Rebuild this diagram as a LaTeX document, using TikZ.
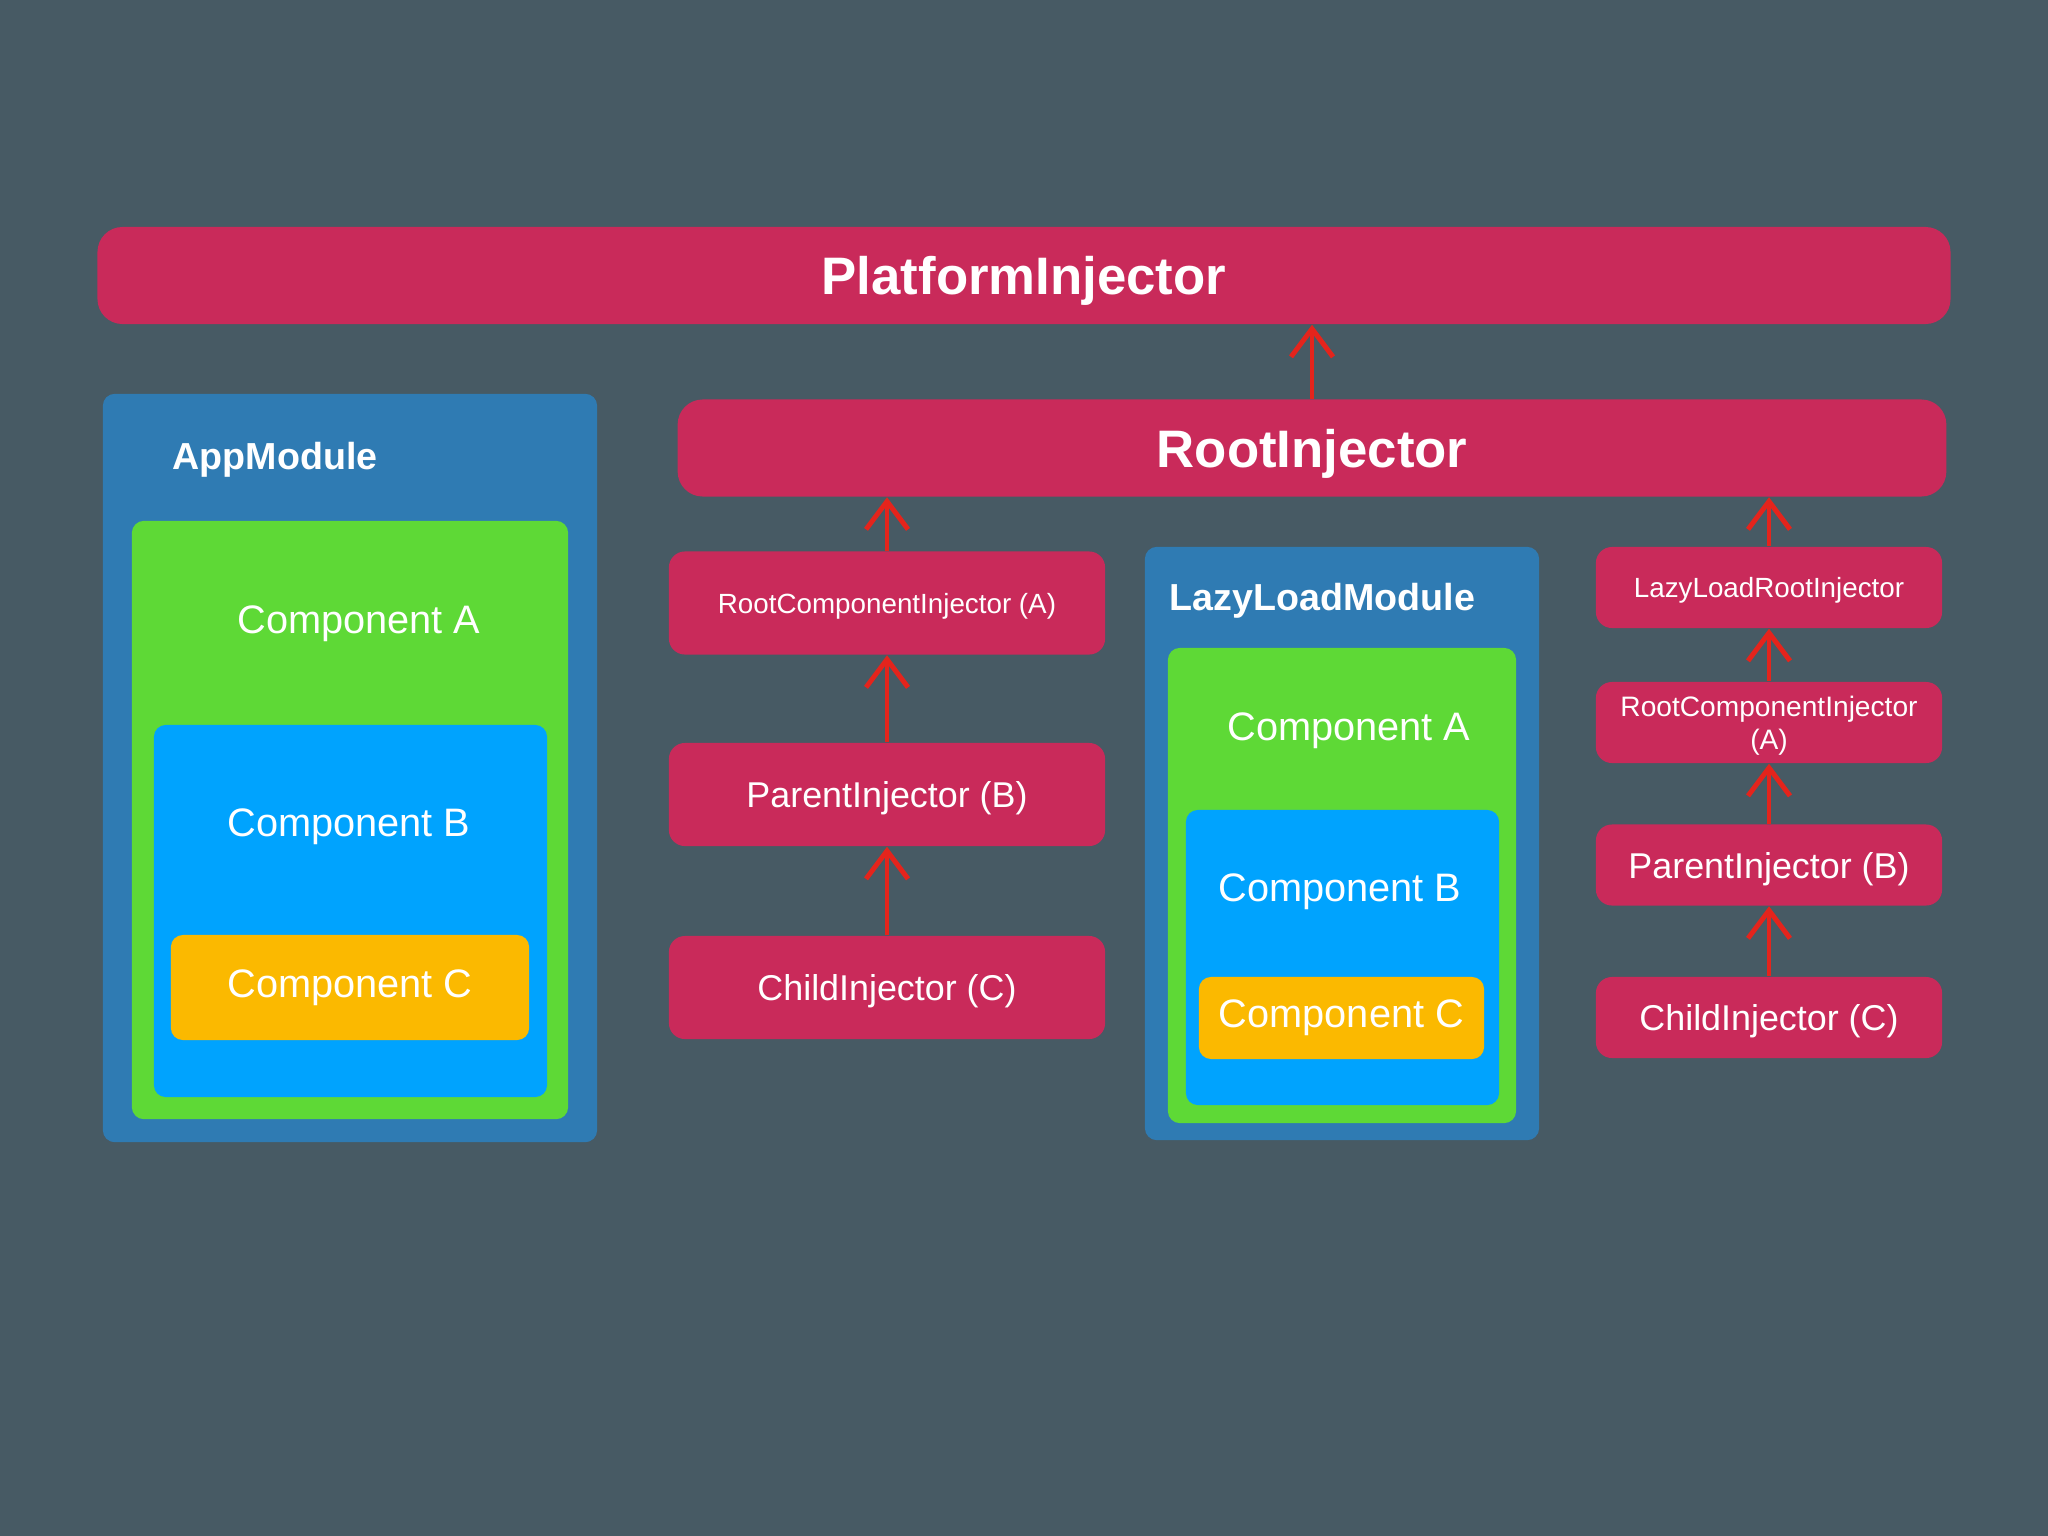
\documentclass[tikz,border=0pt]{standalone}
\usepackage{fontspec}
\setmainfont{Liberation Sans}
\usetikzlibrary{arrows.meta}
\definecolor{slate}{HTML}{475A64}
\definecolor{crimson}{HTML}{C92A5A}
\definecolor{modblue}{HTML}{2F7BB3}
\definecolor{compgreen}{HTML}{5ED936}
\definecolor{compblue}{HTML}{00A3FE}
\definecolor{compamber}{HTML}{FBB900}
\definecolor{arrowred}{HTML}{E4241C}

\begin{document}
\begin{tikzpicture}[x=0.01cm,y=-0.01cm,
	every node/.style={text=white, inner sep=0pt},
	injector/.style={fill=crimson, rounded corners=0.16cm, minimum width=4.36cm, minimum height=1.03cm, text depth=0pt, font=\fontsize{10.2}{12}\selectfont},
	smallinj/.style={injector, minimum width=3.46cm, minimum height=0.81cm},
	topbar/.style={fill=crimson, rounded corners=0.25cm, minimum height=0.97cm, text depth=0pt, font=\fontsize{15}{18}\selectfont\bfseries},
	module/.style={fill=modblue, rounded corners=0.12cm},
	compa/.style={fill=compgreen, rounded corners=0.12cm},
	compb/.style={fill=compblue, rounded corners=0.12cm},
	compc/.style={fill=compamber, rounded corners=0.12cm, font=\fontsize{11.3}{13}\selectfont},
	modlabel/.style={anchor=west, font=\fontsize{10.7}{13}\selectfont\bfseries},
	complabel/.style={font=\fontsize{11.3}{13}\selectfont},
	upto/.style={draw=arrowred, line width=1.4pt, -{Straight Barb[length=2.8mm,width=4.2mm]}}]
	%% some definitions
	\def\midX{887} % middle column
	\def\rightX{1769} % right column

	\fill[slate] (0,0) rectangle (2048,1536);
	\useasboundingbox (0,0) rectangle (2048,1536);

	% injectors on top
	\node[topbar, minimum width=18.52cm] (platform) at (1024,275.5) {PlatformInjector};
	\node[topbar, minimum width=12.68cm] (root) at (1312,448) {RootInjector};

	% AppModule
	\node[module, minimum width=4.94cm, minimum height=7.48cm] (app) at (350,768) {};
	\node[modlabel] (applabel) at (172,460) {AppModule};
	\node[compa, minimum width=4.36cm, minimum height=5.98cm] (appA) at (350,820) {};
	\node[complabel] (appAtext) at (359,624) {Component A};
	\node[compb, minimum width=3.93cm, minimum height=3.72cm] (appB) at (350.5,911) {};
	\node[complabel] (appBtext) at (349,827) {Component B};
	\node[compc, minimum width=3.58cm, minimum height=1.05cm] (appC) at (350,987.5) {Component C};

	% middle column
	\node[injector, font=\fontsize{7.9}{10}\selectfont] (rootcomp) at (\midX,603) {RootComponentInjector (A)};
	\node[injector] (parent) at (\midX,794.5) {ParentInjector (B)};
	\node[injector] (child) at (\midX,987.5) {ChildInjector (C)};

	% LazyLoadModule
	\node[module, minimum width=3.94cm, minimum height=5.93cm] (lazy) at (1342,843.5) {};
	\node[modlabel] (lazylabel) at (1169,601) {LazyLoadModule};
	\node[compa, minimum width=3.48cm, minimum height=4.75cm] (lazyA) at (1342,885.5) {};
	\node[complabel] (lazyAtext) at (1349,731) {Component A};
	\node[compb, minimum width=3.13cm, minimum height=2.95cm] (lazyB) at (1342.5,957.5) {};
	\node[complabel] (lazyBtext) at (1340,892) {Component B};
	\node[compc, minimum width=2.85cm, minimum height=0.82cm] (lazyC) at (1341.5,1018) {Component C};

	% right column
	\node[smallinj, font=\fontsize{7.9}{10}\selectfont] (lazyroot) at (\rightX,587.5) {LazyLoadRootInjector};
	\node[smallinj, align=center, font=\fontsize{8}{9.4}\selectfont] (rootcomp2) at (\rightX,722.5) {RootComponentInjector\\(A)};
	\node[smallinj] (parent2) at (\rightX,865) {ParentInjector (B)};
	\node[smallinj] (child2) at (\rightX,1017.5) {ChildInjector (C)};

	% arrows
	\draw[upto] (root.north) -- (root.north |- platform.south);
	\draw[upto] (rootcomp.north) -- (rootcomp.north |- root.south);
	\draw[upto] (parent) -- (rootcomp);
	\draw[upto] (child) -- (parent);
	\draw[upto] (lazyroot.north) -- (lazyroot.north |- root.south);
	\draw[upto] (rootcomp2) -- (lazyroot);
	\draw[upto] (parent2) -- (rootcomp2);
	\draw[upto] (child2) -- (parent2);

\end{tikzpicture}
\end{document}
